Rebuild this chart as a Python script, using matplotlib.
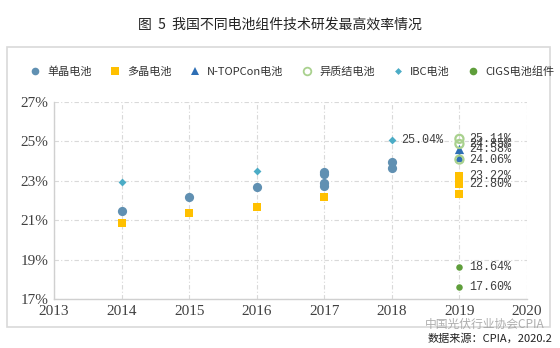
import matplotlib
matplotlib.use("Agg")
import matplotlib.pyplot as plt
from matplotlib.patches import Rectangle
from matplotlib.lines import Line2D

plt.rcParams['font.family'] = ['Noto Sans CJK SC', 'DejaVu Sans']

# ---- data ----
mono_years = [2014, 2015, 2016, 2017, 2017, 2017, 2017, 2018, 2018]
mono_vals = [21.46, 22.17, 22.68, 23.45, 23.33, 22.85, 22.72, 23.95, 23.65]

poly_years = [2014, 2015, 2016, 2017, 2019, 2019, 2019]
poly_vals = [20.84, 21.36, 21.68, 22.14, 23.22, 22.80, 22.33]

topcon_years = [2019, 2019]
topcon_vals = [24.58, 24.20]

hjt_years = [2019, 2019, 2019]
hjt_vals = [25.11, 24.85, 24.06]

ibc_years = [2014, 2016, 2018]
ibc_vals = [22.93, 23.49, 25.04]

cigs_years = [2019, 2019]
cigs_vals = [18.64, 17.60]

series_names = ['单晶电池', '多晶电池', 'N-TOPCon电池', '异质结电池', 'IBC电池', 'CIGS电池组件']

labeled = [(2018, 25.04), (2019, 25.11), (2019, 24.85), (2019, 24.58), (2019, 24.06),
           (2019, 23.22), (2019, 22.80), (2019, 18.64), (2019, 17.60)]

x_ticks = [2013, 2014, 2015, 2016, 2017, 2018, 2019, 2020]
y_ticks = [17, 19, 21, 23, 25, 27]

# ---- colors ----
c_mono = '#6090b2'
c_poly = '#ffc000'
c_topcon = '#2e6fb5'
c_hjt = '#a9d18e'
c_ibc = '#4bacc6'
c_cigs = '#5f9e3b'

W, H = 560, 348
fig = plt.figure(figsize=(W / 100, H / 100), dpi=100)
ax = fig.add_axes([54 / W, 1 - 299 / H, (527 - 54) / W, (299 - 101.5) / H])

ax.scatter(mono_years, mono_vals, s=44, marker='o', color=c_mono, zorder=3, linewidths=0)
ax.scatter(poly_years, poly_vals, s=40, marker='s', color=c_poly, zorder=3, linewidths=0)
ax.scatter(topcon_years, topcon_vals, s=44, marker='^', color=c_topcon, zorder=4, linewidths=0)
ax.scatter(hjt_years, hjt_vals, s=34, marker='o', facecolors='none', edgecolors=c_hjt,
           linewidths=1.6, zorder=5)
ax.scatter(ibc_years, ibc_vals, s=16, marker='D', color=c_ibc, zorder=3, linewidths=0)
ax.scatter(cigs_years, cigs_vals, s=22, marker='o', color=c_cigs, zorder=3, linewidths=0)

for x, v in labeled:
    ax.annotate(f'{v:.2f}%', (x, v), xytext=(7, 0), textcoords='offset points',
                va='center', ha='left', fontsize=8.5, color='#404040',
                family=['Liberation Mono', 'DejaVu Sans Mono'], zorder=6)

ax.set_xlim(2013, 2020)
ax.set_ylim(17, 27)
ax.set_xticks(x_ticks)
ax.set_xticklabels([str(t) for t in x_ticks])
ax.set_yticks(y_ticks)
ax.set_yticklabels([f'{t}%' for t in y_ticks])
for lab in ax.get_xticklabels() + ax.get_yticklabels():
    lab.set_family(['Liberation Serif', 'DejaVu Serif'])
    lab.set_fontsize(11)
    lab.set_color('#404040')
ax.tick_params(length=0, pad=4)
ax.grid(True, color='#d9d9d9', linestyle=(0, (4, 2, 1, 2)), linewidth=0.8)
ax.set_axisbelow(True)
for s in ['top', 'right']:
    ax.spines[s].set_visible(False)
for s in ['left', 'bottom']:
    ax.spines[s].set_color('#d0d0d0')
    ax.spines[s].set_linewidth(1.0)

# frame
fig.patches.append(Rectangle((7 / W, 1 - 327 / H), (550 - 7) / W, (327 - 47) / H,
                             transform=fig.transFigure, fill=False,
                             edgecolor='#d9d9d9', linewidth=1.2))

# title
fig.text(280 / W, 1 - 25 / H, '图  5  我国不同电池组件技术研发最高效率情况',
         ha='center', va='center', fontsize=10, color='#222222', weight='medium')

# legend
handles = [
    Line2D([], [], marker='o', ls='none', color=c_mono, markersize=5.5, markeredgewidth=0),
    Line2D([], [], marker='s', ls='none', color=c_poly, markersize=5.5, markeredgewidth=0),
    Line2D([], [], marker='^', ls='none', color=c_topcon, markersize=5.5, markeredgewidth=0),
    Line2D([], [], marker='o', ls='none', markerfacecolor='none', markeredgecolor=c_hjt,
           markersize=5.5, markeredgewidth=1.3),
    Line2D([], [], marker='D', ls='none', color=c_ibc, markersize=3.5, markeredgewidth=0),
    Line2D([], [], marker='o', ls='none', color=c_cigs, markersize=5.5, markeredgewidth=0),
]
fig.legend(handles, series_names, loc='center', bbox_to_anchor=(292 / W, 1 - 72 / H),
           ncol=6, frameon=False, fontsize=8, handlelength=1.0, handletextpad=0.6,
           columnspacing=1.6, labelcolor='#333333')

# watermark & source
fig.text(545 / W, 1 - 324 / H, '中国光伏行业协会CPIA', ha='right', va='center',
         fontsize=8.5, color='#9a9a9a', alpha=0.8)
fig.text(552 / W, 1 - 338 / H, '数据来源：CPIA，2020.2', ha='right', va='center',
         fontsize=8, color='#222222')

fig.savefig('out.png', dpi=100)
